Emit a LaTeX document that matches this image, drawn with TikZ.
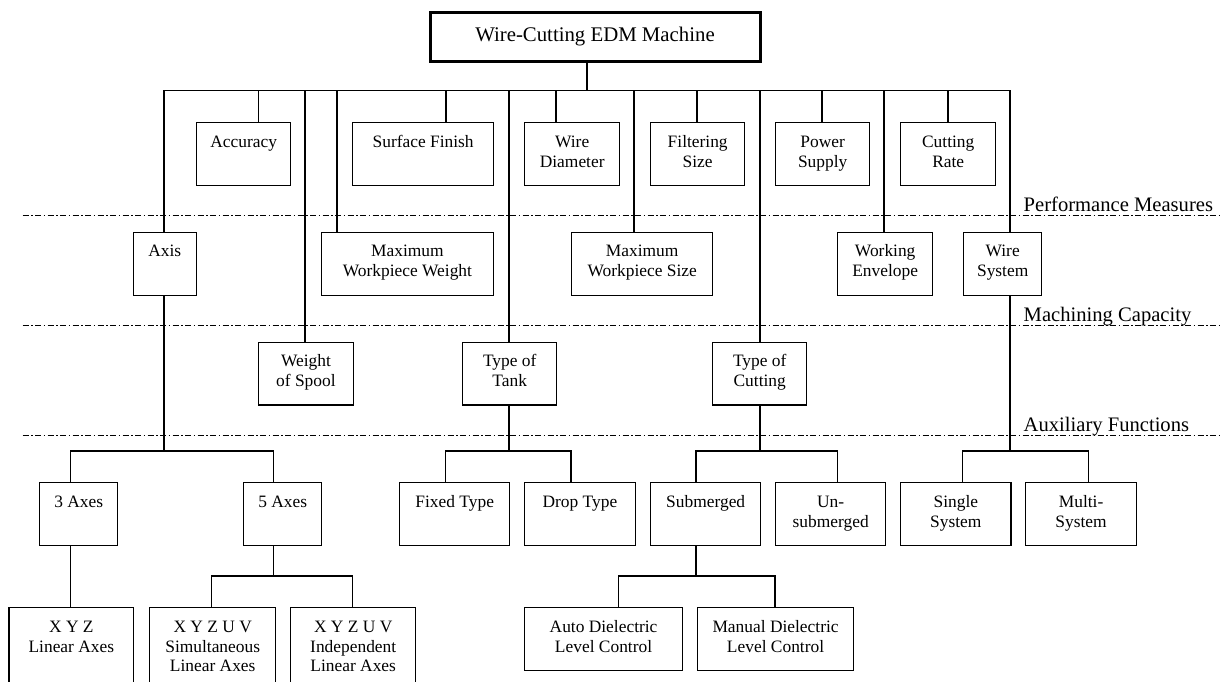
\documentclass[tikz,border=0pt]{standalone}
\usepackage{fontspec}
\setmainfont{Liberation Serif}
% cell text: a fixed-size box with the text set from the top
\newcommand\cellbox[3]{\parbox[t][#2][t]{#1}{\centering\rule{0pt}{24.5pt}#3}}
\begin{document}
\begin{tikzpicture}[x=1pt,y=-1pt,
  wire/.style={line width=1.4pt},
  cell/.style={draw,line width=1.4pt,inner sep=0pt,anchor=north west,
    font=\fontsize{17.4pt}{19.8pt}\selectfont},
  rootbox/.style={draw,line width=3pt,minimum width=330pt,minimum height=48.3pt,
    inner sep=0pt,font=\fontsize{20.8pt}{24pt}\selectfont},
  level/.style={line width=1.3pt,draw=black,
    dash pattern=on 6pt off 2.5pt on 1.5pt off 2.5pt},
  levellabel/.style={anchor=base west,inner sep=0pt,
    font=\fontsize{20.6pt}{24pt}\selectfont}]
\useasboundingbox (0,0) rectangle (1222,681);
\clip (0,0) rectangle (1222,681);

% level separators and their names
\draw[level] (22.7,215.7) -- (1222,215.7);
\draw[level] (22.7,325.7) -- (1222,325.7);
\draw[level] (22.7,435.7) -- (1222,435.7);
\node[levellabel] (lpm) at (1023.5,211) {Performance Measures};
\node[levellabel] (lmc) at (1023.5,321.5) {Machining Capacity};
\node[levellabel] (laf) at (1023.5,431) {Auxiliary Functions};

% root
\node[rootbox] (root) at (595,36.85) {Wire-Cutting EDM Machine};

% performance measures
\node[cell] (acc) at (196,122)   {\cellbox{94pt}{63pt}{Accuracy}};
\node[cell] (sf)  at (352,122)   {\cellbox{141pt}{63pt}{Surface Finish}};
\node[cell] (wd)  at (524,122)   {\cellbox{95pt}{63pt}{Wire\\Diameter}};
\node[cell] (fs)  at (650,122)   {\cellbox{94pt}{63pt}{Filtering\\Size}};
\node[cell] (ps)  at (775,122)   {\cellbox{94pt}{63pt}{Power\\Supply}};
\node[cell] (cr)  at (900,122)   {\cellbox{95pt}{63pt}{Cutting\\Rate}};

% machining capacity
\node[cell] (axis) at (132.5,231.7) {\cellbox{63pt}{63.3pt}{Axis}};
\node[cell] (mww)  at (320.5,231.7) {\cellbox{172.5pt}{63.3pt}{Maximum\\Workpiece Weight}};
\node[cell] (mws)  at (571,231.7)   {\cellbox{141pt}{63.3pt}{Maximum\\Workpiece Size}};
\node[cell] (we)   at (837,231.7)   {\cellbox{95pt}{63.3pt}{Working\\Envelope}};
\node[cell] (ws)   at (963,231.7)   {\cellbox{78pt}{63.3pt}{Wire\\System}};

% auxiliary functions
\node[cell] (wsp) at (258,341.7) {\cellbox{94.5pt}{62.6pt}{Weight\\of Spool}};
\node[cell] (tt)  at (462,341.7) {\cellbox{94pt}{62.6pt}{Type of\\Tank}};
\node[cell] (tc)  at (712,341.7) {\cellbox{94pt}{62.6pt}{Type of\\Cutting}};

% options
\node[cell] (ax3) at (39,482)    {\cellbox{78pt}{63pt}{3 Axes}};
\node[cell] (ax5) at (243,482)   {\cellbox{78pt}{63pt}{5 Axes}};
\node[cell] (ft)  at (399,482)   {\cellbox{110pt}{63pt}{Fixed Type}};
\node[cell] (dt)  at (524,482)   {\cellbox{110.5pt}{63pt}{Drop Type}};
\node[cell] (sub) at (650,482)   {\cellbox{110pt}{63pt}{Submerged}};
\node[cell] (uns) at (775,482)   {\cellbox{110pt}{63pt}{Un-\\submerged}};
\node[cell] (ss)  at (900,482)   {\cellbox{110.3pt}{63pt}{Single\\System}};
\node[cell] (ms)  at (1025,482)  {\cellbox{110.7pt}{63pt}{Multi-\\System}};

\node[cell] (xyz)  at (8.3,607)   {\cellbox{124.7pt}{90pt}{X Y Z\\Linear Axes}};
\node[cell] (sim)  at (149,607)   {\cellbox{126pt}{90pt}{X Y Z U V\\Simultaneous\\Linear Axes}};
\node[cell] (ind)  at (290,607)   {\cellbox{125pt}{90pt}{X Y Z U V\\Independent\\Linear Axes}};
\node[cell] (auto) at (524,607)   {\cellbox{157.7pt}{63pt}{Auto Dielectric\\Level Control}};
\node[cell] (man)  at (696.7,607) {\cellbox{156.3pt}{63pt}{Manual Dielectric\\Level Control}};

% drop points on the main bus
\coordinate (dRoot) at (587,90.7);
\coordinate (dAxis) at (164,90.7);
\coordinate (dAcc)  at (258.5,90.7);
\coordinate (dWsp)  at (305,90.7);
\coordinate (dMww)  at (337,90.7);
\coordinate (dSf)   at (446,90.7);
\coordinate (dTt)   at (509,90.7);
\coordinate (dWd)   at (556,90.7);
\coordinate (dMws)  at (634,90.7);
\coordinate (dFs)   at (697,90.7);
\coordinate (dTc)   at (760,90.7);
\coordinate (dPs)   at (822,90.7);
\coordinate (dWe)   at (884,90.7);
\coordinate (dCr)   at (948,90.7);
\coordinate (dWs)   at (1010,90.7);

% main bus
\draw[wire] (dRoot |- root.south) -- (dRoot);
\draw[wire] (dAxis |- axis.north) -- (dAxis) -- (dWs) -- (dWs |- ws.north);
\foreach \d/\n in {dAcc/acc,dSf/sf,dWd/wd,dFs/fs,dPs/ps,dCr/cr,
                   dMww/mww,dMws/mws,dWe/we,dWsp/wsp,dTt/tt,dTc/tc}
  \draw[wire] (\d) -- (\d |- \n.north);

% second-level buses
\coordinate (jAx)  at (164,451);
\coordinate (cAx3) at (70.6,451);
\coordinate (cAx5) at (273.5,451);
\coordinate (jTt)  at (509,451);
\coordinate (cFt)  at (445.5,451);
\coordinate (cDt)  at (571,451);
\coordinate (jTc)  at (760,451);
\coordinate (cSub) at (696,451);
\coordinate (cUns) at (837.7,451);
\coordinate (jWs)  at (1010,451);
\coordinate (cSs)  at (962.7,451);
\coordinate (cMs)  at (1088.5,451);

\draw[wire] (jAx |- axis.south) -- (jAx);
\draw[wire] (cAx3 |- ax3.north) -- (cAx3) -- (cAx5) -- (cAx5 |- ax5.north);
\draw[wire] (jTt |- tt.south) -- (jTt);
\draw[wire] (cFt |- ft.north) -- (cFt) -- (cDt) -- (cDt |- dt.north);
\draw[wire] (jTc |- tc.south) -- (jTc);
\draw[wire] (cSub |- sub.north) -- (cSub) -- (cUns) -- (cUns |- uns.north);
\draw[wire] (jWs |- ws.south) -- (jWs);
\draw[wire] (cSs |- ss.north) -- (cSs) -- (cMs) -- (cMs |- ms.north);

% third-level buses
\coordinate (cXyz) at (70.6,576);
\coordinate (cSim) at (211.7,576);
\coordinate (cInd) at (352.7,576);
\coordinate (jAx5) at (273.5,576);
\coordinate (cAuto) at (618.3,576);
\coordinate (cMan)  at (775,576);
\coordinate (jSub)  at (696,576);

\draw[wire] (cXyz |- ax3.south) -- (cXyz |- xyz.north);
\draw[wire] (jAx5 |- ax5.south) -- (jAx5);
\draw[wire] (cSim |- sim.north) -- (cSim) -- (cInd) -- (cInd |- ind.north);
\draw[wire] (jSub |- sub.south) -- (jSub);
\draw[wire] (cAuto |- auto.north) -- (cAuto) -- (cMan) -- (cMan |- man.north);
\end{tikzpicture}
\end{document}
